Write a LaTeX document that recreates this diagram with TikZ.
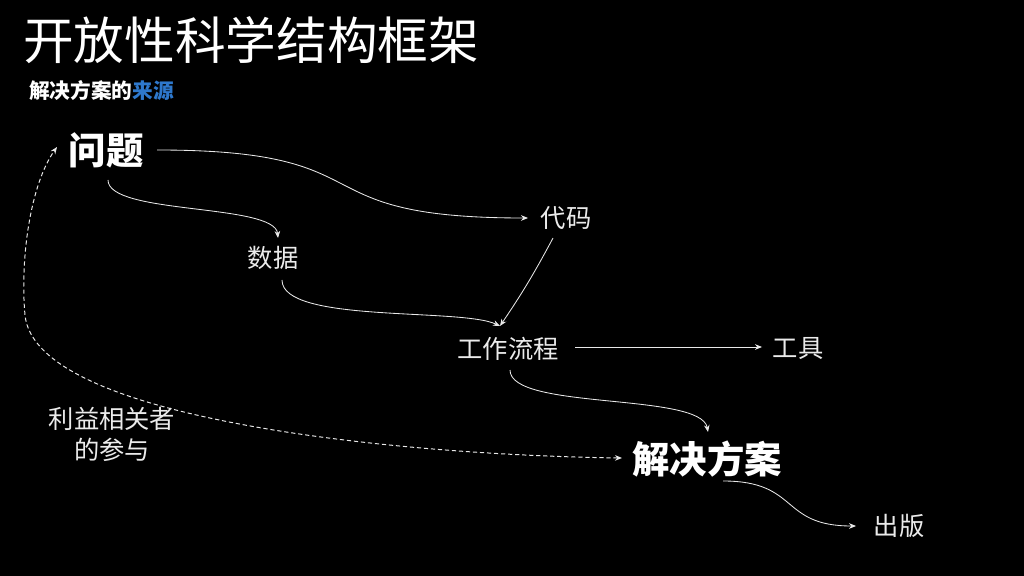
\documentclass[tikz,border=0pt]{standalone}
\usepackage{fontspec}
\newfontfamily\cjk{Noto Sans CJK SC}
\usetikzlibrary{arrows.meta,calc}
\definecolor{srcblue}{HTML}{2E78CC}
\definecolor{linecol}{HTML}{E8E8E8}
\begin{document}
\begin{tikzpicture}[x=0.025cm,y=-0.025cm,
  lbl/.style={font=\cjk\fontsize{18}{22}\selectfont, text=white!92!black, inner sep=1pt},
  big/.style={font=\cjk\bfseries\fontsize{26.6}{30}\selectfont, text=white, inner sep=1pt},
  link/.style={draw=linecol, line width=0.6pt, -{Stealth[length=5pt,width=4pt]}},
  dlink/.style={draw=linecol, line width=0.7pt, dash pattern=on 3pt off 2pt, {Stealth[length=5pt,width=4pt]}-{Stealth[length=5pt,width=4pt]}},
]
\fill[black] (0,0) rectangle (1024,576);
\node[anchor=west, font=\cjk\fontsize{36}{40}\selectfont, text=white, inner sep=0] (title) at (23,40) {开放性科学结构框架};
\node[anchor=west, font=\cjk\bfseries\fontsize{14.7}{17}\selectfont, text=white, inner sep=0] (sub) at (29,91) {解决方案的\textcolor{srcblue}{来源}};
\node[big] (q) at (106,150) {问题};
\node[lbl] (code) at (566,218) {代码};
\node[lbl] (data) at (273,258) {数据};
\node[lbl] (wf) at (508,349) {工作流程};
\node[lbl] (tool) at (798,349) {工具};
\node[big] (sol) at (707,459) {解决方案};
\node[lbl] (pub) at (899,526) {出版};
\node[lbl, align=center] (stake) at (112,434) {利益相关者\\的参与};

\draw[link] ($(q.center)+(51,0)$) to[out=0,in=180,looseness=1.6] ($(code.center)+(-38,0)$);
\draw[link] ($(q.center)+(2,30)$) to[out=-90,in=95,looseness=0.5] ($(data.center)+(5,-20)$);
\draw[link] ($(data.center)+(9,22)$) to[out=-90,in=155,looseness=0.5] ($(wf.center)+(-8,-23)$);
\draw[link] ($(code.center)+(-13,20)$) to[bend left=3] ($(wf.center)+(-8,-23)$);
\draw[link] ($(wf.center)+(67,-2)$) -- ($(tool.center)+(-36,-2)$);
\draw[link] ($(wf.center)+(2,21)$) to[out=-90,in=100,looseness=0.5] ($(sol.center)+(1,-27)$);
\draw[link] ($(sol.center)+(16,22)$) to[out=0,in=180,looseness=1.4] ($(pub.center)+(-43,0)$);
\draw[dlink] ($(sol.center)+(-85,-1)$) .. controls (400,455) and (35,420) .. (25,315) .. controls (20,260) and (30,185) .. ($(q.center)+(-49,-3)$);
\end{tikzpicture}
\end{document}
